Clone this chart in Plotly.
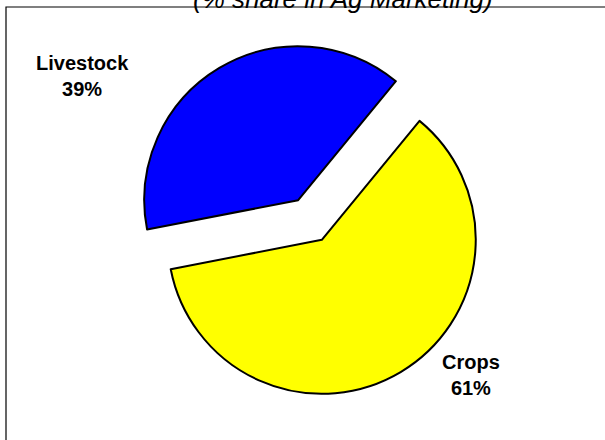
import plotly.graph_objects as go

labels = ["Livestock", "Crops"]
values = [39, 61]
colors = ["#0000FF", "#FFFF00"]
pulls = [0.15, 0.15]
title_text = "(% share in Ag Marketing)"

fig = go.Figure()
fig.add_trace(go.Pie(
    labels=labels, values=values, sort=False, direction="counterclockwise",
    rotation=-101, pull=pulls, textinfo="none", hoverinfo="label+percent",
    marker=dict(colors=colors, line=dict(color="black", width=2)),
    domain=dict(x=[0.2066, 0.8182], y=[0.0977, 0.9023]),
    showlegend=False,
))

font = dict(family="Arial, Liberation Sans, sans-serif", size=20, color="black")
label_pos = [(0.1364, 0.828), (0.7785, 0.148)]
for lab, val, (x, y) in zip(labels, values, label_pos):
    fig.add_annotation(text=f"<b>{lab}<br>{val}%</b>", x=x, y=y, xref="paper", yref="paper",
                       showarrow=False, font=font, xanchor="center", yanchor="middle")

fig.add_annotation(text=f"<i>{title_text}</i>", x=0.567, y=1 - 16 / 440, xref="paper", yref="paper",
                   showarrow=False, xanchor="center", yanchor="bottom",
                   font=dict(family="Arial, Liberation Sans, sans-serif", size=26, color="black"))

fig.add_shape(type="rect", xref="paper", yref="paper", x0=6 / 605, x1=1.02, y0=-0.02, y1=1 - 7 / 440,
              line=dict(color="black", width=1.2), fillcolor="rgba(0,0,0,0)")

fig.update_layout(width=605, height=440, margin=dict(l=0, r=0, t=0, b=0),
                  paper_bgcolor="white", plot_bgcolor="white")
fig.write_html("out.html", post_script="document.body.style.margin='0';",
               config={"displayModeBar": False})
